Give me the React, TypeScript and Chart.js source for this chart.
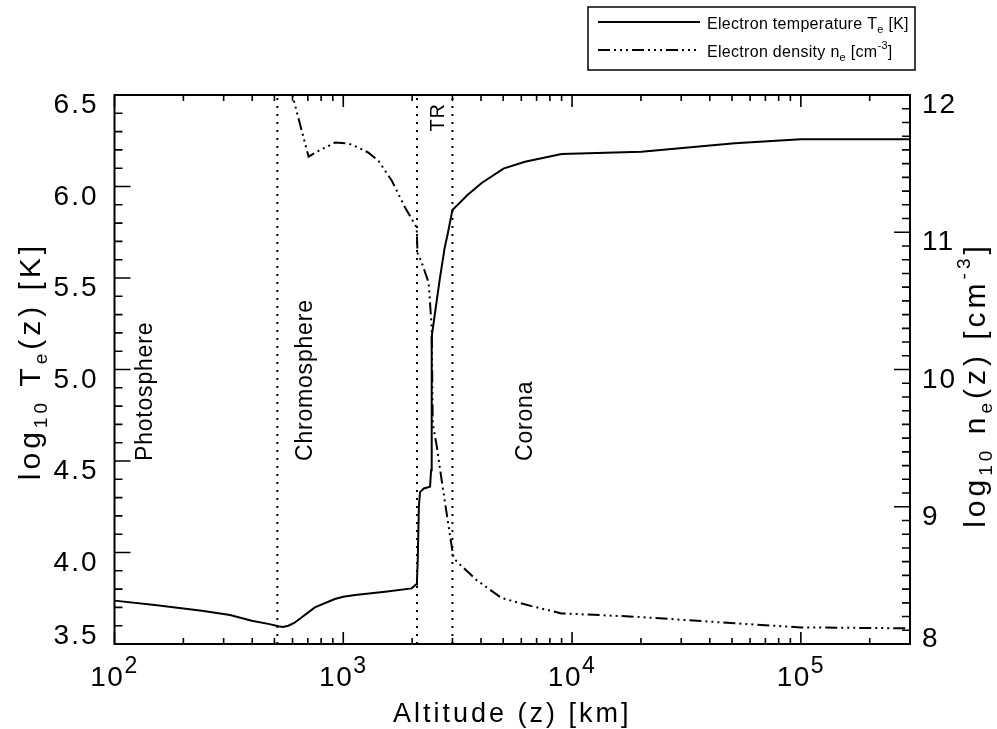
import React, { useEffect, useRef } from 'react';
import { Chart, registerables } from 'chart.js';

Chart.register(...registerables);

// ---------- data ----------
const tempAltitude = [100, 150, 241, 320, 398, 470, 521, 545, 575, 610, 659, 751, 918, 1000, 1127, 1524, 1990, 2080, 2100, 2115, 2140, 2165, 2250, 2395, 2420, 2435, 2638, 2773, 2854, 3000, 3500, 4027, 5012, 6223, 8995, 20090, 51400, 100000, 300000];
const tempLog = [3.737, 3.713, 3.682, 3.658, 3.627, 3.61, 3.597, 3.593, 3.6, 3.615, 3.646, 3.70, 3.746, 3.758, 3.768, 3.786, 3.804, 3.825, 3.85, 3.95, 4.25, 4.33, 4.35, 4.36, 4.45, 5.18, 5.49, 5.664, 5.735, 5.872, 5.955, 6.019, 6.098, 6.135, 6.178, 6.19, 6.236, 6.258, 6.258];

const densAltitude = [584, 705, 780, 920, 1055, 1165, 1288, 1426, 1630, 1862, 2094, 2110, 2204, 2361, 2435, 2460, 2559, 2692, 2917, 3035, 3190, 3829, 4920, 6650, 8995, 18790, 51400, 100000, 300000];
const densLog = [12.07, 11.551, 11.593, 11.653, 11.646, 11.617, 11.58, 11.52, 11.375, 11.18, 11.035, 10.85, 10.778, 10.633, 10.305, 9.607, 9.447, 9.193, 8.807, 8.625, 8.589, 8.465, 8.335, 8.276, 8.223, 8.199, 8.151, 8.121, 8.114];

const boundaryAltitude = [515, 2100, 3000];

const regionNames = ['Photosphere', 'Chromosphere', 'TR', 'Corona'];
const regionAltitude = [146, 730, 2750, 6650];
const regionLogT = [4.5, 4.5, 6.3, 4.5];

const xTickValues = [100, 1000, 10000, 100000];
const xTickExponents = ['2', '3', '4', '5'];
const leftTickValues = [3.5, 4.0, 4.5, 5.0, 5.5, 6.0, 6.5];
const rightTickValues = [8, 9, 10, 11, 12];

const FONT = '"Liberation Sans", Arial, Helvetica, sans-serif';

type Seg = { t: string; s: number; dy?: number };

function segWidth(ctx: CanvasRenderingContext2D, segs: Seg[], sp: number) {
  let w = 0;
  for (const g of segs) {
    ctx.font = `${g.s}px ${FONT}`;
    (ctx as any).letterSpacing = `${sp}px`;
    w += ctx.measureText(g.t).width;
  }
  return w;
}

function drawRich(ctx: CanvasRenderingContext2D, segs: Seg[], x: number, y: number, rot: number, align: 'left' | 'center' | 'right', sp: number) {
  ctx.save();
  ctx.translate(x, y);
  ctx.rotate(rot);
  const w = segWidth(ctx, segs, sp);
  let cx = align === 'center' ? -w / 2 : align === 'right' ? -w : 0;
  ctx.textAlign = 'left';
  ctx.textBaseline = 'alphabetic';
  ctx.fillStyle = '#000';
  for (const g of segs) {
    ctx.font = `${g.s}px ${FONT}`;
    (ctx as any).letterSpacing = `${sp}px`;
    ctx.fillText(g.t, cx, g.dy || 0);
    cx += ctx.measureText(g.t).width;
  }
  ctx.restore();
}

const DENS_DASH = [12, 4, 2, 4, 2, 4, 2, 4];

const decorPlugin = {
  id: 'decor',
  afterDraw(chart: any) {
    const ctx: CanvasRenderingContext2D = chart.ctx;
    const { left, right, top, bottom } = chart.chartArea;
    const xs = chart.scales.x;
    const ys = chart.scales.y;
    const y2 = chart.scales.y2;
    ctx.save();
    ctx.strokeStyle = '#000';
    ctx.fillStyle = '#000';
    ctx.setLineDash([]);
    // frame
    ctx.lineWidth = 2;
    ctx.strokeRect(left, top, right - left, bottom - top);
    ctx.lineWidth = 1.6;
    ctx.beginPath();
    // x ticks (log)
    for (let d = 2; d <= 5; d++) {
      for (let m = 1; m <= 9; m++) {
        const v = m * Math.pow(10, d);
        if (v < xs.min || v > xs.max) continue;
        const px = xs.getPixelForValue(v);
        const len = m === 1 ? 12 : 6;
        ctx.moveTo(px, bottom);
        ctx.lineTo(px, bottom - len);
        ctx.moveTo(px, top);
        ctx.lineTo(px, top + len);
      }
    }
    // left ticks
    for (let i = 0; i <= 30; i++) {
      const v = 3.5 + i * 0.1;
      const py = ys.getPixelForValue(v);
      const len = i % 5 === 0 ? 16 : 8;
      ctx.moveTo(left, py);
      ctx.lineTo(left + len, py);
    }
    // right ticks
    for (let i = 0; i <= 40; i++) {
      const v = 8 + i * 0.1;
      const py = y2.getPixelForValue(v);
      const len = i % 10 === 0 ? 16 : 8;
      ctx.moveTo(right, py);
      ctx.lineTo(right - len, py);
    }
    ctx.stroke();

    // tick labels (sit slightly below their ticks; bottom ones lifted above the x labels)
    leftTickValues.forEach((v, i) => {
      let py = ys.getPixelForValue(v) + 8;
      if (i === 0) py -= 18;
      drawRich(ctx, [{ t: v.toFixed(1), s: 28 }], left - 16, py + 10, 0, 'right', 2);
    });
    rightTickValues.forEach((v, i) => {
      let py = y2.getPixelForValue(v) + 8;
      if (i === 0) py -= 15;
      drawRich(ctx, [{ t: String(v), s: 28 }], right + 12, py + 10, 0, 'left', 2);
    });
    xTickValues.forEach((v, i) => {
      const px = xs.getPixelForValue(v);
      drawRich(ctx, [{ t: '10', s: 28 }, { t: xTickExponents[i], s: 23, dy: -13 }], px, 686, 0, 'center', 1.5);
    });

    // axis titles
    drawRich(ctx, [{ t: 'Altitude (z) [km]', s: 27 }], (left + right) / 2, 722, 0, 'center', 3);
    drawRich(ctx, [
      { t: 'log', s: 30 }, { t: '10', s: 19, dy: 7 }, { t: ' T', s: 30 }, { t: 'e', s: 19, dy: 7 }, { t: '(z) [K]', s: 30 },
    ], 40, 361, -Math.PI / 2, 'center', 4);
    drawRich(ctx, [
      { t: 'log', s: 30 }, { t: '10', s: 19, dy: 7 }, { t: ' n', s: 30 }, { t: 'e', s: 19, dy: 7 }, { t: '(z) [cm', s: 30 }, { t: '-3', s: 19, dy: -15 }, { t: ']', s: 30 },
    ], 985, 385, -Math.PI / 2, 'center', 4);

    // region labels
    regionNames.forEach((name, i) => {
      const px = xs.getPixelForValue(regionAltitude[i]);
      const py = ys.getPixelForValue(regionLogT[i]);
      drawRich(ctx, [{ t: name, s: name === 'TR' ? 20 : 23 }], px, py, -Math.PI / 2, 'left', 0.8);
    });

    // legend
    ctx.lineWidth = 1.5;
    ctx.setLineDash([]);
    ctx.strokeRect(588, 7, 327, 63);
    ctx.lineWidth = 2;
    ctx.beginPath();
    ctx.moveTo(598, 22);
    ctx.lineTo(700, 22);
    ctx.stroke();
    ctx.setLineDash(DENS_DASH);
    ctx.beginPath();
    ctx.moveTo(598, 50);
    ctx.lineTo(700, 50);
    ctx.stroke();
    ctx.setLineDash([]);
    drawRich(ctx, [
      { t: 'Electron temperature T', s: 16 }, { t: 'e', s: 11, dy: 4 }, { t: ' [K]', s: 16 },
    ], 707, 29, 0, 'left', 0.3);
    drawRich(ctx, [
      { t: 'Electron density n', s: 16 }, { t: 'e', s: 11, dy: 4 }, { t: ' [cm', s: 16 }, { t: '-3', s: 11, dy: -8 }, { t: ']', s: 16 },
    ], 707, 57, 0, 'left', 0.3);
    ctx.restore();
  },
};

export default function App() {
  const ref = useRef<HTMLCanvasElement>(null);
  useEffect(() => {
    const canvas = ref.current!;
    const datasets: any[] = [
      ...boundaryAltitude.map((b) => ({
        label: 'boundary',
        data: [{ x: b, y: 3.5 }, { x: b, y: 6.5 }],
        yAxisID: 'y',
        showLine: true,
        borderColor: '#000',
        borderWidth: 2,
        borderDash: [2, 6],
        pointRadius: 0,
        fill: false,
      })),
      {
        label: 'Electron density',
        data: densAltitude.map((x, i) => ({ x, y: densLog[i] })),
        yAxisID: 'y2',
        showLine: true,
        borderColor: '#000',
        borderWidth: 2,
        borderDash: DENS_DASH,
        pointRadius: 0,
        fill: false,
      },
      {
        label: 'Electron temperature',
        data: tempAltitude.map((x, i) => ({ x, y: tempLog[i] })),
        yAxisID: 'y',
        showLine: true,
        borderColor: '#000',
        borderWidth: 2,
        pointRadius: 0,
        fill: false,
      },
    ];
    const chart = new Chart(canvas, {
      type: 'scatter',
      data: { datasets },
      options: {
        animation: false,
        responsive: false,
        maintainAspectRatio: false,
        devicePixelRatio: 1,
        layout: { padding: { top: 95, left: 0, right: 0, bottom: 0 } },
        plugins: { legend: { display: false }, tooltip: { enabled: false } },
        scales: {
          x: {
            type: 'logarithmic', min: 100, max: 300000,
            ticks: { display: false }, grid: { display: false }, border: { display: false },
            afterFit: (s: any) => { s.height = 85; },
          },
          y: {
            position: 'left', min: 3.5, max: 6.5,
            ticks: { display: false }, grid: { display: false }, border: { display: false },
            afterFit: (s: any) => { s.width = 114.5; },
          },
          y2: {
            position: 'right', min: 8, max: 12,
            ticks: { display: false }, grid: { display: false }, border: { display: false },
            afterFit: (s: any) => { s.width = 87; },
          },
        },
      } as any,
      plugins: [decorPlugin],
    });
    return () => chart.destroy();
  }, []);
  return (
    <div style={{ position: 'absolute', left: 0, top: 0, width: 997, height: 729, background: '#fff' }}>
      <canvas ref={ref} width={997} height={729} style={{ width: 997, height: 729, display: 'block' }} />
    </div>
  );
}
